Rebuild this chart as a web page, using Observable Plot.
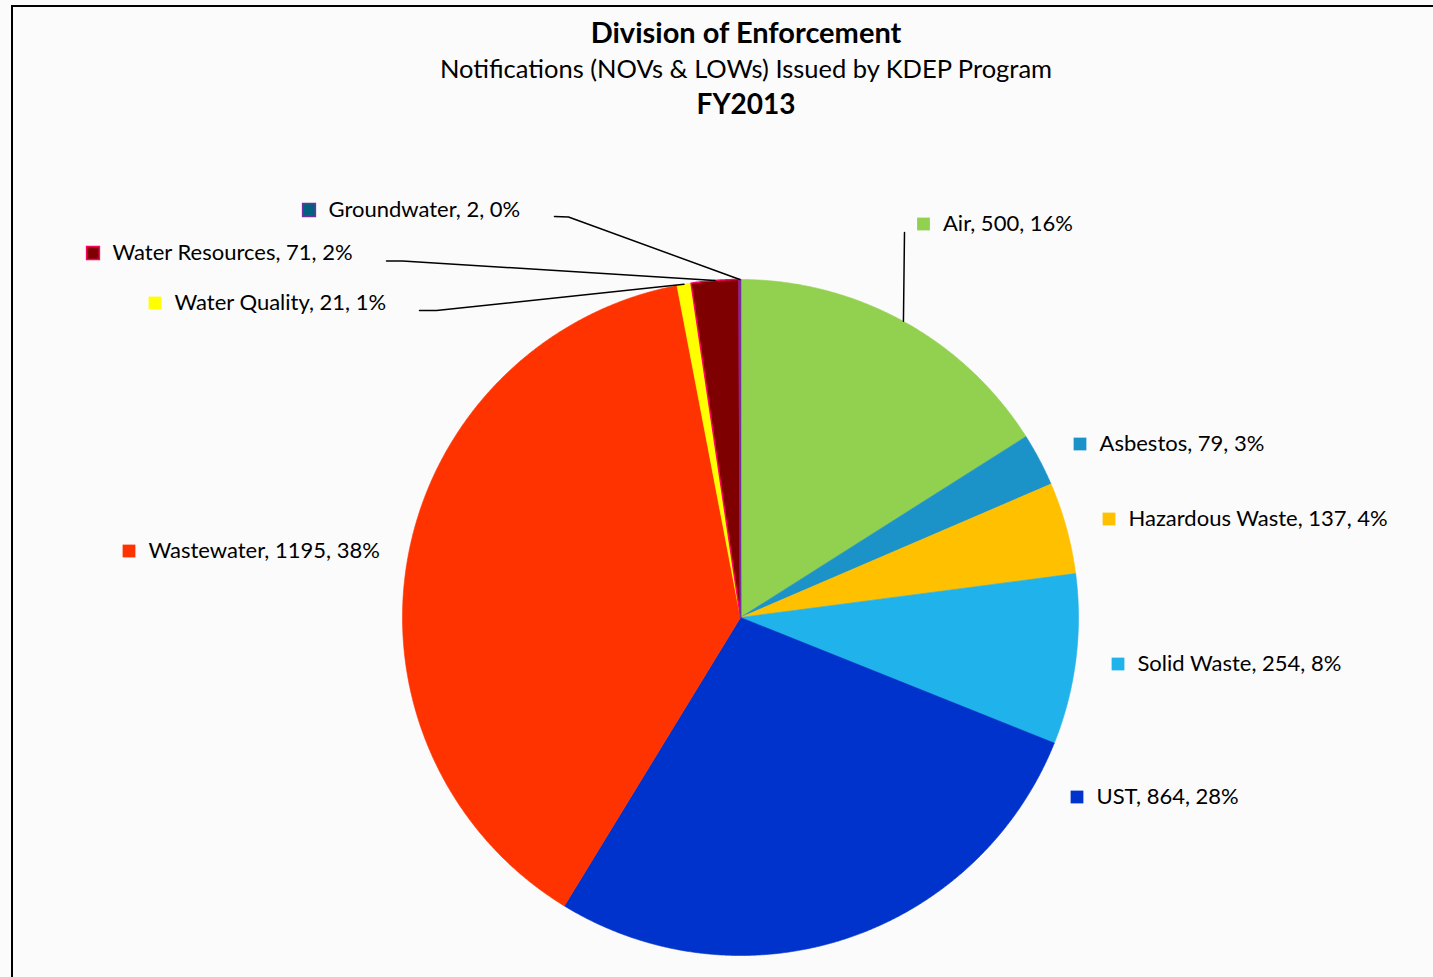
<!DOCTYPE html>
<html>
<head>
<meta charset="utf-8">
<script src="https://cdn.jsdelivr.net/npm/d3@7"></script>
<script src="https://cdn.jsdelivr.net/npm/@observablehq/plot@0.6"></script>
<style>
  html, body { margin: 0; padding: 0; background: #fbfbfb; overflow: hidden; }
  #wrap { position: relative; width: 1433px; height: 977px; }
  #border { position: absolute; left: 11px; top: 5px; width: 1500px; height: 1100px;
            border-left: 2px solid #000; border-top: 2px solid #000; box-sizing: border-box; }
  #chart { position: absolute; left: 0; top: 0; }
  #chart svg { background: transparent; }
</style>
</head>
<body>
<div id="wrap"><div id="border"></div><div id="chart"></div></div>
<script>
// ---- Data ----
const categories = ["Air", "Asbestos", "Hazardous Waste", "Solid Waste", "UST", "Wastewater", "Water Quality", "Water Resources", "Groundwater"];
const counts = [500, 79, 137, 254, 864, 1195, 21, 71, 2];
const percents = ["16%", "3%", "4%", "8%", "28%", "38%", "1%", "2%", "0%"];
const fills = ["#92d050", "#1b93c9", "#ffc000", "#20b2ea", "#0033cc", "#ff3300", "#ffff00", "#7f0000", "#00617f"];
const strokes = [null, null, null, null, null, null, null, "#ff0066", "#7030a0"];
const titleLines = ["Division of Enforcement", "Notifications (NOVs & LOWs) Issued by KDEP Program", "FY2013"];

// ---- Layout (pixels) ----
const W = 1433, H = 977;
const cx = 740, cy = 617, R = 338;
const titleX = 745.5;
// legend marker centres (px)
const markerPos = [[923, 223.5], [1079.5, 443.5], [1108.5, 518.5], [1117.5, 663.5], [1076.5, 796.5],
                   [128.5, 550.5], [154.5, 302.5], [92.5, 252.5], [308.5, 209.5]];
// leader lines: label-side points (px), the rim end comes from the slice angle
const leaderPts = {
  "Air": [[904, 232]],
  "Groundwater": [[554, 216], [568, 216.5]],
  "Water Resources": [[386, 260.5], [402, 260.5]],
  "Water Quality": [[419, 310], [436, 310]]
};
const font = "Lato, 'Open Sans', sans-serif";

const ux = px => (px - cx) / R;
const uy = py => (cy - py) / R;

const rows = categories.map((c, i) => ({name: c, count: counts[i], pct: percents[i], fill: fills[i], stroke: strokes[i]}));
const arcs = d3.pie().sort(null).value(d => d.count).startAngle(0).endAngle(2 * Math.PI)(rows);

function slicePoints(a) {
  const pts = [{x: 0, y: 0}];
  const n = Math.max(2, Math.ceil((a.endAngle - a.startAngle) / (Math.PI / 720)));
  for (let k = 0; k <= n; k++) {
    const t = a.startAngle + (a.endAngle - a.startAngle) * k / n;
    pts.push({x: Math.sin(t), y: Math.cos(t)});
  }
  pts.push({x: 0, y: 0});
  return pts;
}

const sliceMarks = arcs.map(a => Plot.line(slicePoints(a), {
  x: "x", y: "y", curve: "linear",
  fill: a.data.fill,
  stroke: a.data.stroke || a.data.fill,
  strokeWidth: a.data.stroke ? 1.5 : 0.6
}));

const leaderMarks = arcs.filter(a => leaderPts[a.data.name]).map(a => {
  const mid = (a.startAngle + a.endAngle) / 2;
  const pts = leaderPts[a.data.name].map(([px, py]) => ({x: ux(px), y: uy(py)}));
  pts.push({x: Math.sin(mid), y: Math.cos(mid)});
  return Plot.line(pts, {x: "x", y: "y", stroke: "#000", strokeWidth: 1.5, curve: "linear"});
});

const labels = rows.map((r, i) => ({
  ...r,
  mx: ux(markerPos[i][0]), my: uy(markerPos[i][1]),
  tx: ux(markerPos[i][0] + 19.5),
  text: `${r.name}, ${r.count}, ${r.pct}`
}));

const titles = [
  {text: titleLines[0], y: uy(33), size: 29, weight: "bold"},
  {text: titleLines[1], y: uy(69), size: 25.5, weight: "normal"},
  {text: titleLines[2], y: uy(105), size: 28, weight: "bold"}
];

const chart = Plot.plot({
  width: W, height: H,
  margin: 0,
  x: {domain: [ux(0), ux(W)], axis: null},
  y: {domain: [uy(H), uy(0)], axis: null},
  style: {background: "transparent", fontFamily: font},
  marks: [
    ...sliceMarks,
    ...leaderMarks,
    Plot.dot(labels, {x: "mx", y: "my", symbol: "square", r: 7.2, fill: d => d.fill,
      stroke: d => d.stroke || d.fill, strokeWidth: d => d.stroke ? 1.5 : 0}),
    Plot.text(labels, {x: "tx", y: "my", text: "text", textAnchor: "start", fontSize: 22,
      fontFamily: font, fill: "#000"}),
    ...titles.map(t => Plot.text([t], {x: () => ux(titleX), y: "y", text: "text", textAnchor: "middle",
      lineAnchor: "middle", fontSize: t.size, fontWeight: t.weight, fontFamily: font, fill: "#000"}))
  ]
});
document.getElementById("chart").appendChild(chart);
</script>
</body>
</html>
